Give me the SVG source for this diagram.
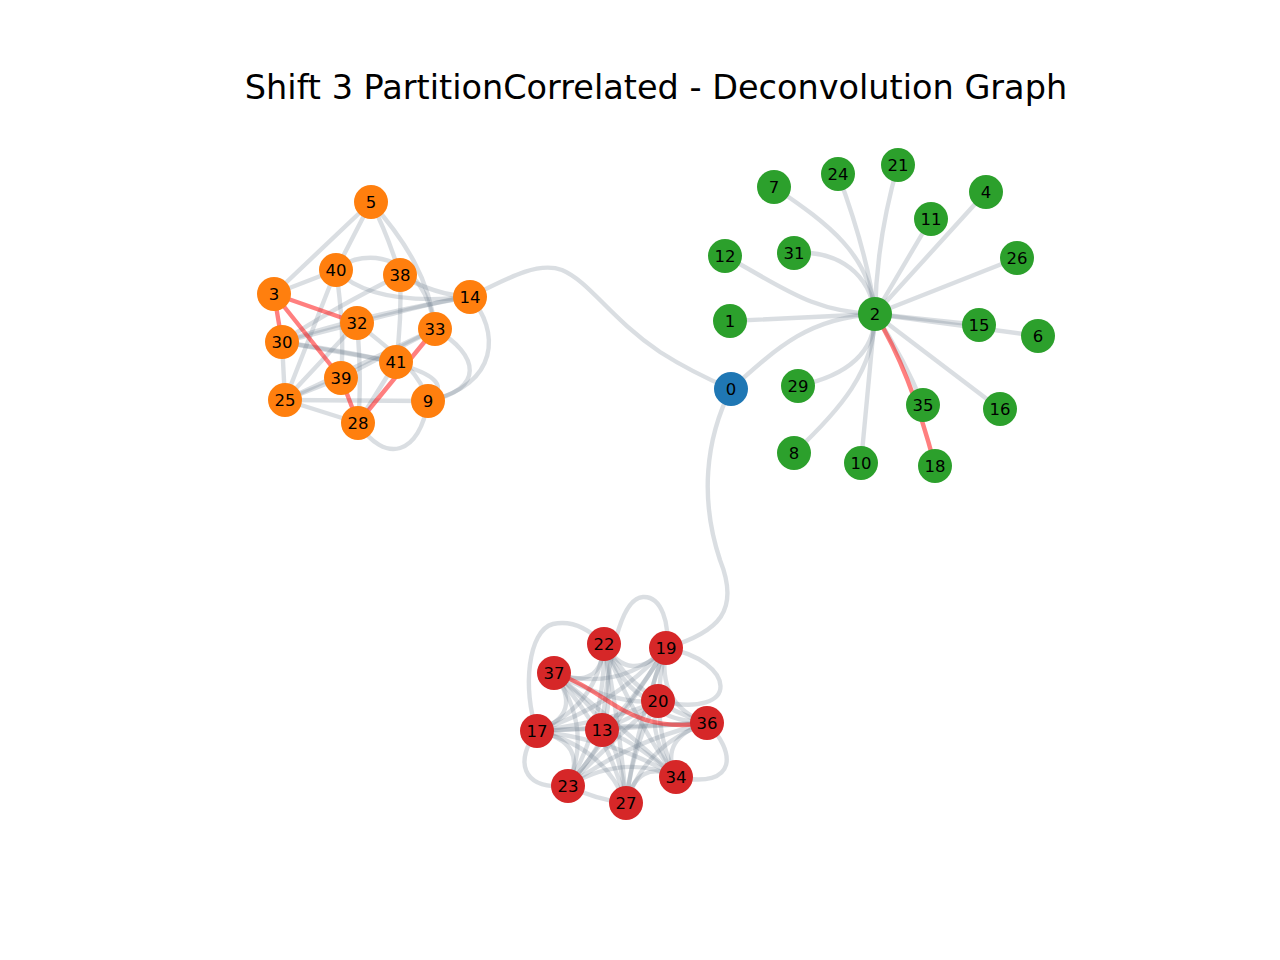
<svg xmlns="http://www.w3.org/2000/svg" width="1280" height="960" viewBox="0 0 1280 960">
<style>
.e{fill:none;stroke:#708090;stroke-opacity:0.26;stroke-width:4.4;stroke-linecap:round}
.r{fill:none;stroke:#ff0000;stroke-opacity:0.5;stroke-width:4.4;stroke-linecap:round}
.n text{font-family:"DejaVu Sans","Liberation Sans",sans-serif;font-size:16.5px;text-anchor:middle;fill:#000}
.o{fill:#ff7f0e}.g{fill:#2ca02c}.rd{fill:#d62728}.b{fill:#1f77b4}
.title{font-family:"DejaVu Sans","Liberation Sans",sans-serif;font-size:33.5px;text-anchor:middle;fill:#000}
</style>
<rect width="1280" height="960" fill="#fff"/>
<text class="title" x="656" y="99">Shift 3 PartitionCorrelated - Deconvolution Graph</text>
<g id="connectors">
<path class="e" d="M371,202 L274,294"/>
<path class="e" d="M371,202 L336,270"/>
<path class="e" d="M371,202 Q388,235 400,275"/>
<path class="e" d="M371,202 C405,240 430,280 435,329"/>
<path class="e" d="M274,294 L336,270"/>
<path class="e" d="M336,270 C365,300 420,302 470,297"/>
<path class="e" d="M336,270 C365,245 425,255 435,329"/>
<path class="e" d="M400,275 C360,295 315,320 282,342"/>
<path class="e" d="M282,342 C340,322 420,305 470,297"/>
<path class="e" d="M357,323 C400,312 440,300 470,297"/>
<path class="e" d="M400,275 Q435,295 470,297"/>
<path class="e" d="M282,342 L285,400"/>
<path class="e" d="M336,270 L285,400"/>
<path class="e" d="M336,270 Q345,330 341,378"/>
<path class="e" d="M357,323 Q362,380 358,423"/>
<path class="e" d="M282,342 L396,362"/>
<path class="e" d="M282,342 C370,355 470,372 428,401"/>
<path class="e" d="M285,400 L428,401"/>
<path class="e" d="M285,400 L358,423"/>
<path class="e" d="M285,400 L341,378"/>
<path class="e" d="M285,400 C340,375 400,345 435,329"/>
<path class="e" d="M400,275 Q402,320 396,362"/>
<path class="e" d="M396,362 L358,423"/>
<path class="e" d="M470,297 C500,330 500,385 428,401"/>
<path class="e" d="M435,329 C480,355 485,390 428,401"/>
<path class="e" d="M358,423 C385,465 420,455 428,401"/>
<path class="e" d="M357,323 C390,350 420,370 428,401"/>
<path class="e" d="M282,342 L357,323"/>
<path class="e" d="M341,378 L435,329"/>
<path class="e" d="M357,323 L285,400"/>
<path class="r" d="M274,294 L357,323"/>
<path class="r" d="M274,294 L282,342"/>
<path class="r" d="M274,294 L341,378"/>
<path class="r" d="M341,378 L358,423"/>
<path class="r" d="M435,329 L358,423"/>
<path class="e" d="M470,297 C515,274 540,262 562,270 C590,282 610,318 660,352 C685,368 710,380 731,389"/>
<path class="e" d="M731,389 C705,440 700,500 720,560 C740,610 720,632 666,648"/>
<path class="e" d="M774,187 C830,225 870,255 875,314"/>
<path class="e" d="M838,174 C855,220 870,270 875,314"/>
<path class="e" d="M898,165 C885,210 876,260 875,314"/>
<path class="e" d="M875,314 L931,219"/>
<path class="e" d="M875,314 L986,192"/>
<path class="e" d="M875,314 L1017,258"/>
<path class="e" d="M794,253 C840,250 870,275 875,314"/>
<path class="e" d="M725,256 C780,285 810,312 875,314"/>
<path class="e" d="M730,321 L875,314"/>
<path class="e" d="M875,314 L979,325"/>
<path class="e" d="M875,314 L1038,336"/>
<path class="e" d="M875,314 L1000,409"/>
<path class="e" d="M875,314 Q905,360 923,405"/>
<path class="e" d="M875,314 Q868,390 861,463"/>
<path class="e" d="M794,453 C840,410 875,370 875,314"/>
<path class="e" d="M798,386 C850,375 875,350 875,314"/>
<path class="e" d="M731,389 C780,345 810,318 875,314"/>
<path class="r" d="M875,314 Q910,370 935,466"/>
<path class="e" d="M604,644 Q630,686 666,648"/>
<path class="e" d="M604,644 Q602,692 554,673"/>
<path class="e" d="M604,644 Q628,699 658,701"/>
<path class="e" d="M604,644 Q640,704 707,723"/>
<path class="e" d="M604,644 Q598,706 537,731"/>
<path class="e" d="M604,644 Q614,706 602,730"/>
<path class="e" d="M604,644 Q606,720 568,786"/>
<path class="e" d="M604,644 Q620,724 626,803"/>
<path class="e" d="M604,644 Q633,718 676,777"/>
<path class="e" d="M666,648 Q618,693 554,673"/>
<path class="e" d="M666,648 Q644,700 658,701"/>
<path class="e" d="M666,648 Q656,705 707,723"/>
<path class="e" d="M666,648 Q613,707 537,731"/>
<path class="e" d="M666,648 Q630,707 602,730"/>
<path class="e" d="M666,648 Q621,721 568,786"/>
<path class="e" d="M666,648 Q636,725 626,803"/>
<path class="e" d="M666,648 Q648,719 676,777"/>
<path class="e" d="M554,673 Q616,706 658,701"/>
<path class="e" d="M554,673 Q585,714 537,731"/>
<path class="e" d="M554,673 Q602,713 602,730"/>
<path class="e" d="M554,673 Q593,727 568,786"/>
<path class="e" d="M554,673 Q608,732 626,803"/>
<path class="e" d="M554,673 Q620,725 676,777"/>
<path class="e" d="M658,701 Q654,719 707,723"/>
<path class="e" d="M658,701 Q611,721 537,731"/>
<path class="e" d="M658,701 Q628,720 602,730"/>
<path class="e" d="M658,701 Q619,734 568,786"/>
<path class="e" d="M658,701 Q634,739 626,803"/>
<path class="e" d="M658,701 Q646,732 676,777"/>
<path class="e" d="M707,723 Q624,726 537,731"/>
<path class="e" d="M707,723 Q640,726 602,730"/>
<path class="e" d="M707,723 Q631,740 568,786"/>
<path class="e" d="M707,723 Q646,744 626,803"/>
<path class="e" d="M707,723 Q658,738 676,777"/>
<path class="e" d="M537,731 Q597,728 602,730"/>
<path class="e" d="M537,731 Q589,742 568,786"/>
<path class="e" d="M537,731 Q603,746 626,803"/>
<path class="e" d="M537,731 Q616,740 676,777"/>
<path class="e" d="M602,730 Q605,742 568,786"/>
<path class="e" d="M602,730 Q620,746 626,803"/>
<path class="e" d="M602,730 Q632,739 676,777"/>
<path class="e" d="M568,786 Q597,800 626,803"/>
<path class="e" d="M568,786 Q624,753 676,777"/>
<path class="e" d="M626,803 Q638,758 676,777"/>
<path class="e" d="M602,730 C608,660 620,598 643,597 C662,596 670,625 666,648"/>
<path class="e" d="M537,731 C522,690 528,630 553,624 C575,619 592,632 604,644"/>
<path class="e" d="M537,731 C515,760 520,790 568,786"/>
<path class="e" d="M666,648 C735,660 745,720 658,701"/>
<path class="e" d="M707,723 C735,750 740,790 676,777"/>
<path class="r" d="M554,673 C610,690 625,735 707,723"/>
</g>
<g class="n">
<g id="node-0"><circle class="b" cx="731" cy="389" r="17"/><text x="731" y="395">0</text></g>
<g id="node-1"><circle class="g" cx="730" cy="321" r="17"/><text x="730" y="327">1</text></g>
<g id="node-2"><circle class="g" cx="875" cy="314" r="17"/><text x="875" y="320">2</text></g>
<g id="node-4"><circle class="g" cx="986" cy="192" r="17"/><text x="986" y="198">4</text></g>
<g id="node-6"><circle class="g" cx="1038" cy="336" r="17"/><text x="1038" y="342">6</text></g>
<g id="node-7"><circle class="g" cx="774" cy="187" r="17"/><text x="774" y="193">7</text></g>
<g id="node-8"><circle class="g" cx="794" cy="453" r="17"/><text x="794" y="459">8</text></g>
<g id="node-10"><circle class="g" cx="861" cy="463" r="17"/><text x="861" y="469">10</text></g>
<g id="node-11"><circle class="g" cx="931" cy="219" r="17"/><text x="931" y="225">11</text></g>
<g id="node-12"><circle class="g" cx="725" cy="256" r="17"/><text x="725" y="262">12</text></g>
<g id="node-15"><circle class="g" cx="979" cy="325" r="17"/><text x="979" y="331">15</text></g>
<g id="node-16"><circle class="g" cx="1000" cy="409" r="17"/><text x="1000" y="415">16</text></g>
<g id="node-18"><circle class="g" cx="935" cy="466" r="17"/><text x="935" y="472">18</text></g>
<g id="node-21"><circle class="g" cx="898" cy="165" r="17"/><text x="898" y="171">21</text></g>
<g id="node-24"><circle class="g" cx="838" cy="174" r="17"/><text x="838" y="180">24</text></g>
<g id="node-26"><circle class="g" cx="1017" cy="258" r="17"/><text x="1017" y="264">26</text></g>
<g id="node-29"><circle class="g" cx="798" cy="386" r="17"/><text x="798" y="392">29</text></g>
<g id="node-31"><circle class="g" cx="794" cy="253" r="17"/><text x="794" y="259">31</text></g>
<g id="node-35"><circle class="g" cx="923" cy="405" r="17"/><text x="923" y="411">35</text></g>
<g id="node-3"><circle class="o" cx="274" cy="294" r="17"/><text x="274" y="300">3</text></g>
<g id="node-5"><circle class="o" cx="371" cy="202" r="17"/><text x="371" y="208">5</text></g>
<g id="node-9"><circle class="o" cx="428" cy="401" r="17"/><text x="428" y="407">9</text></g>
<g id="node-14"><circle class="o" cx="470" cy="297" r="17"/><text x="470" y="303">14</text></g>
<g id="node-25"><circle class="o" cx="285" cy="400" r="17"/><text x="285" y="406">25</text></g>
<g id="node-28"><circle class="o" cx="358" cy="423" r="17"/><text x="358" y="429">28</text></g>
<g id="node-30"><circle class="o" cx="282" cy="342" r="17"/><text x="282" y="348">30</text></g>
<g id="node-32"><circle class="o" cx="357" cy="323" r="17"/><text x="357" y="329">32</text></g>
<g id="node-33"><circle class="o" cx="435" cy="329" r="17"/><text x="435" y="335">33</text></g>
<g id="node-38"><circle class="o" cx="400" cy="275" r="17"/><text x="400" y="281">38</text></g>
<g id="node-39"><circle class="o" cx="341" cy="378" r="17"/><text x="341" y="384">39</text></g>
<g id="node-40"><circle class="o" cx="336" cy="270" r="17"/><text x="336" y="276">40</text></g>
<g id="node-41"><circle class="o" cx="396" cy="362" r="17"/><text x="396" y="368">41</text></g>
<g id="node-13"><circle class="rd" cx="602" cy="730" r="17"/><text x="602" y="736">13</text></g>
<g id="node-17"><circle class="rd" cx="537" cy="731" r="17"/><text x="537" y="737">17</text></g>
<g id="node-19"><circle class="rd" cx="666" cy="648" r="17"/><text x="666" y="654">19</text></g>
<g id="node-20"><circle class="rd" cx="658" cy="701" r="17"/><text x="658" y="707">20</text></g>
<g id="node-22"><circle class="rd" cx="604" cy="644" r="17"/><text x="604" y="650">22</text></g>
<g id="node-23"><circle class="rd" cx="568" cy="786" r="17"/><text x="568" y="792">23</text></g>
<g id="node-27"><circle class="rd" cx="626" cy="803" r="17"/><text x="626" y="809">27</text></g>
<g id="node-34"><circle class="rd" cx="676" cy="777" r="17"/><text x="676" y="783">34</text></g>
<g id="node-36"><circle class="rd" cx="707" cy="723" r="17"/><text x="707" y="729">36</text></g>
<g id="node-37"><circle class="rd" cx="554" cy="673" r="17"/><text x="554" y="679">37</text></g>
</g>
</svg>
